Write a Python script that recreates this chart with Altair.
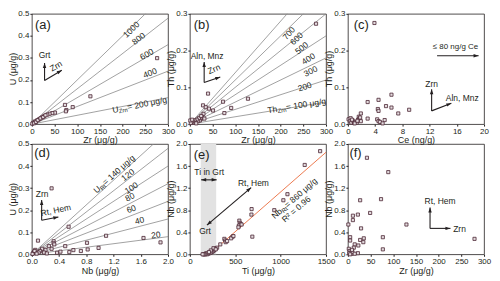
import math
import altair as alt
import pandas as pd

FONT = "Liberation Sans"
INK = "#231f20"
LINE_GREY = "#8a8a8a"
PT_STROKE = "#4a2433"
PT_FILL = "#e4dcdf"
ORANGE = "#ec7a50"
BAND = "#e2e2e2"
W, H = 137, 111

# ---------------- data ----------------
# (a) U vs Zr
a_zr = [276, 129, 90, 73, 76, 75, 51, 45, 39, 34, 27, 22, 16, 11, 7, 3, 1, 5, 9, 13, 19, 25, 30]
a_u = [0.299, 0.126, 0.077, 0.087, 0.064, 0.058, 0.052, 0.050, 0.047, 0.043, 0.036, 0.030, 0.022,
       0.016, 0.012, 0.006, 0.002, 0.004, 0.010, 0.018, 0.026, 0.032, 0.040]
a_line_end = [0.60, 0.48, 0.36, 0.24, 0.12]          # U at Zr = 300 (U_Zrn 1000..200)
a_lab_text = ["1000", "800", "600", "400"]
a_lab_x = [219, 235, 253, 260]
a_lab_y = [0.429, 0.388, 0.317, 0.232]

# (b) Th vs Zr
b_zr = [278, 128, 91, 73, 76, 40, 29, 35, 42, 51, 30, 27, 24, 22, 20, 18, 15, 12, 10, 8, 6, 4, 2, 1,
        25, 14, 5, 32]
b_th = [0.273, 0.069, 0.044, 0.061, 0.030, 0.083, 0.051, 0.046, 0.042, 0.037, 0.028, 0.018, 0.014,
        0.010, 0.016, 0.008, 0.012, 0.006, 0.010, 0.004, 0.008, 0.006, 0.003, 0.010, 0.022, 0.002,
        0.012, 0.015]
b_line_end = [0.42, 0.36, 0.30, 0.24, 0.18, 0.12, 0.06]  # Th at Zr = 300 (Th_Zrn 700..100)
b_lab_text = ["700", "600", "500", "400", "300", "200"]
b_lab_x = [218, 235, 246, 261, 266, 253]
b_lab_y = [0.247, 0.233, 0.207, 0.178, 0.144, 0.102]

# (c) Th vs Ce
c_ce = [3.9, 6.4, 4.5, 2.9, 5.6, 6.4, 9.0, 7.4, 4.4, 4.5, 1.9, 2.9, 4.3, 4.5, 4.7, 5.4, 5.1, 0.1,
        0.3, 0.5, 0.7, 0.9, 1.1, 1.3, 1.5, 1.6, 1.7, 1.8, 1.9, 0.4, 1.0, 1.4, 0.6]
c_th = [0.275, 0.080, 0.066, 0.060, 0.049, 0.045, 0.039, 0.029, 0.041, 0.036, 0.029, 0.015, 0.013,
        0.008, 0.006, 0.011, 0.002, 0.013, 0.008, 0.004, 0.010, 0.003, 0.006, 0.004, 0.012, 0.020,
        0.015, 0.018, 0.008, 0.016, 0.002, 0.009, 0.012]

# (d) U vs Nb
d_nb = [0.29, 0.54, 1.09, 1.64, 1.89, 0.81, 0.98, 0.82, 0.72, 0.61, 0.49, 0.09, 0.32, 0.32, 0.33,
        0.29, 0.25, 0.20, 0.55, 0.37, 0.15, 0.12, 0.10, 0.05, 0.03, 0.02, 0.01, 0.04, 0.07, 0.18,
        0.22, 0.42]
d_u = [0.299, 0.125, 0.084, 0.074, 0.054, 0.052, 0.029, 0.022, 0.015, 0.019, 0.037, 0.062, 0.059,
       0.050, 0.045, 0.025, 0.037, 0.020, 0.010, 0.007, 0.025, 0.015, 0.008, 0.020, 0.010, 0.005,
       0.002, 0.015, 0.003, 0.008, 0.004, 0.012]
d_line_end = [0.56, 0.48, 0.40, 0.32, 0.24, 0.16, 0.08]  # U at Nb = 2 (U_Rt 140..20)
d_lab_text = ["120", "100", "80", "60", "40", "20"]
d_lab_x = [1.41, 1.46, 1.44, 1.46, 1.58, 1.82]
d_lab_y = [0.360, 0.301, 0.260, 0.206, 0.154, 0.088]

# (e) Nb vs Ti
e_ti = [1435, 1265, 1075, 1030, 930, 680, 678, 688, 545, 550, 560, 540, 535, 570, 470, 455, 480,
        380, 390, 395, 410, 335, 300, 280, 270, 260, 250, 240, 230, 215, 200, 190, 180, 170, 160,
        150, 140, 260, 285, 230, 210]
e_nb = [1.87, 1.62, 1.09, 0.98, 0.80, 0.82, 0.72, 0.32, 0.61, 0.57, 0.55, 0.52, 0.49, 0.54, 0.32,
        0.29, 0.33, 0.28, 0.25, 0.22, 0.24, 0.18, 0.12, 0.10, 0.08, 0.06, 0.05, 0.04, 0.03, 0.02,
        0.01, 0.00, 0.02, 0.00, 0.00, 0.00, 0.00, 0.11, 0.09, 0.07, 0.04]
e_fit_ti = [215, 1500]
e_fit_nb = [0.0, 1.85]
e_band = [120, 290]

# (f) Nb vs Zr
f_zr = [42, 89, 27, 73, 49, 22, 11, 11, 129, 1, 29, 77, 35, 27, 5, 5, 34, 15, 23, 13, 77, 279, 22,
        2, 4, 6, 8, 10, 3, 9, 5, 15]
f_nb = [1.75, 1.49, 0.98, 1.00, 0.75, 0.72, 0.70, 0.62, 0.54, 0.54, 0.47, 0.31, 0.29, 0.26, 0.31,
        0.25, 0.22, 0.18, 0.16, 0.12, 0.09, 0.28, 0.02, 0.10, 0.06, 0.03, 0.01, 0.04, 0.02, 0.08,
        0.00, 0.01]

# ---------------- helpers ----------------
CW = {"U": .722, "T": .611, "h": .556, "N": .722, "b": .556, "Z": .611, "r": .333, "n": .556,
      "R": .722, "t": .278, " ": .278, "=": .584, "μ": .576, "g": .556, "/": .278, ".": .278}


def tw(s, fs):
    return sum(CW.get(ch, .556) for ch in s) * fs


class Panel:
    def __init__(self, xdom, ydom, xvals, yvals, xfmt, yfmt, xtitle, ytitle):
        self.xdom, self.ydom = xdom, ydom
        self.ytitle = ytitle
        xs = alt.Scale(domain=xdom, nice=False, zero=False)
        ys = alt.Scale(domain=ydom, nice=False, zero=False)
        xa = alt.Axis(values=xvals, format=xfmt, title=xtitle, tickSize=2, labelPadding=1,
                      titlePadding=1, labelFlush=False, labelOverlap=False, grid=False, domain=False)
        ya = alt.Axis(values=yvals, format=yfmt, title=None, tickSize=2, labelPadding=1,
                      labelFlush=False, labelOverlap=False, grid=False, domain=False)
        self.X = alt.X("x:Q", scale=xs, axis=xa, title=xtitle)
        self.Y = alt.Y("y:Q", scale=ys, axis=ya, title=None)
        self.kx = W / (xdom[1] - xdom[0])
        self.ky = H / (ydom[1] - ydom[0])
        self.layers = []

    def pix_angle(self, dx, dy):
        return (-math.degrees(math.atan2(dy * self.ky, dx * self.kx))) % 360

    def rays(self, x_end, y_ends, color=LINE_GREY, x0=None, y0=None, width=0.8):
        n = len(y_ends)
        df = pd.DataFrame({"x": [self.xdom[0] if x0 is None else x0] * n,
                           "y": [0.0 if y0 is None else y0] * n,
                           "x2": [x_end] * n, "y2": y_ends})
        self.layers.append(alt.Chart(df).mark_rule(color=color, strokeWidth=width, clip=True)
                           .encode(x=self.X, y=self.Y, x2="x2:Q", y2="y2:Q"))

    def band(self, x0, x1):
        df = pd.DataFrame({"x": [x0], "x2": [x1], "y": [self.ydom[0]], "y2": [self.ydom[1]]})
        self.layers.append(alt.Chart(df).mark_rect(color=BAND)
                           .encode(x=self.X, y=self.Y, x2="x2:Q", y2="y2:Q"))

    def points(self, xs, ys):
        df = pd.DataFrame({"x": xs, "y": ys})
        self.layers.append(alt.Chart(df).mark_square(size=10, filled=True, fill=PT_FILL,
                                                     stroke=PT_STROKE, strokeWidth=0.8, opacity=1)
                           .encode(x=self.X, y=self.Y))

    def texts(self, xs, ys, labels, angles, size=8.5, align="center", baseline="middle"):
        df = pd.DataFrame({"x": xs, "y": ys, "t": labels, "ang": angles})
        self.layers.append(alt.Chart(df).mark_text(font=FONT, fontSize=size, color=INK, align=align,
                                                   baseline=baseline)
                           .encode(x=self.X, y=self.Y, text="t:N",
                                   angle=alt.Angle("ang:Q", scale=None)))

    def ray_labels(self, xs, ys, labels, slopes):
        angs = [self.pix_angle(1, s) for s in slopes]
        self.texts(xs, ys, labels, angs)

    def sub_label(self, cx, cy, ang, main, sub, rest, fs=8.5, sfs=6.0):
        wm, ws, wr = tw(main, fs), tw(sub, sfs), tw(rest, fs)
        start = -(wm + ws + wr) / 2
        df = pd.DataFrame({"x": [cx], "y": [cy]})
        base = alt.Chart(df).encode(x=self.X, y=self.Y)
        common = dict(font=FONT, color=INK, align="left", baseline="middle", angle=ang)
        self.layers.append(base.mark_text(text=main, fontSize=fs, dx=start, **common))
        self.layers.append(base.mark_text(text=sub, fontSize=sfs, dx=start + wm, dy=2.5, **common))
        self.layers.append(base.mark_text(text=rest, fontSize=fs, dx=start + wm + ws, **common))

    def arrow(self, x0, y0, x1, y1, both=False):
        df = pd.DataFrame({"x": [x0], "y": [y0], "x2": [x1], "y2": [y1]})
        self.layers.append(alt.Chart(df).mark_rule(color=INK, strokeWidth=1.1)
                           .encode(x=self.X, y=self.Y, x2="x2:Q", y2="y2:Q"))

        def head_ang(ax, ay, bx, by):
            dxp = (bx - ax) * self.kx
            dyp = -(by - ay) * self.ky
            return math.degrees(math.atan2(dxp, -dyp)) % 360

        heads = [(x1, y1, head_ang(x0, y0, x1, y1))]
        if both:
            heads.append((x0, y0, head_ang(x1, y1, x0, y0)))
        hdf = pd.DataFrame(heads, columns=["x", "y", "a"])
        self.layers.append(alt.Chart(hdf).mark_point(shape="M0,0L-0.55,1.6L0.55,1.6Z", filled=True,
                                                     color=INK, size=40, opacity=1, strokeWidth=0)
                           .encode(x=self.X, y=self.Y, angle=alt.Angle("a:Q", scale=None)))

    def tag(self, x, y, label):
        self.texts([x], [y], [label], [0], size=13, align="left", baseline="top")

    def chart(self):
        # y-axis title drawn as a rotated text beside the axis labels
        tdf = pd.DataFrame({"t": [self.ytitle]})
        ttl = alt.Chart(tdf).mark_text(font=FONT, fontSize=9, color=INK, angle=270,
                                       align="center", baseline="bottom").encode(
            x=alt.value(-14), y=alt.value(H / 2), text="t:N")
        return alt.layer(*self.layers, ttl).properties(width=W, height=H)


# ---------------- panel (a) ----------------
pa = Panel([0, 300], [0, 0.5], [0, 50, 100, 150, 200, 250, 300], [0, .1, .2, .3, .4, .5],
           "d", ".1f", "Zr (μg/g)", "U (μg/g)")
pa.rays(300, a_line_end)
pa.points(a_zr, a_u)
pa.ray_labels(a_lab_x, a_lab_y, a_lab_text, [e / 300 for e in a_line_end[:4]])
pa.sub_label(240, 0.089, pa.pix_angle(1, a_line_end[4] / 300), "U", "Zrn", " = 200 μg/g")
pa.arrow(28, 0.198, 28, 0.277)
pa.arrow(28, 0.198, 66, 0.244)
pa.texts([28], [0.312], ["Grt"], [0])
pa.texts([53], [0.263], ["Zrn"], [330])
pa.tag(7, 0.476, "(a)")

# ---------------- panel (b) ----------------
pb = Panel([0, 300], [0, 0.3], [0, 50, 100, 150, 200, 250, 300], [0, .1, .2, .3],
           "d", ".1f", "Zr (μg/g)", "Th (μg/g)")
pb.rays(300, b_line_end)
pb.points(b_zr, b_th)
pb.ray_labels(b_lab_x, b_lab_y, b_lab_text, [e / 300 for e in b_line_end[:6]])
pb.sub_label(238, 0.051, pb.pix_angle(1, b_line_end[6] / 300), "Th", "Zrn", " = 100 μg/g")
pb.arrow(31.5, 0.113, 31.5, 0.169)
pb.arrow(31.5, 0.113, 67, 0.128)
pb.texts([38], [0.186], ["Aln, Mnz"], [0])
pb.texts([53], [0.150], ["Zrn"], [336])
pb.tag(8.5, 0.286, "(b)")

# ---------------- panel (c) ----------------
pc = Panel([0, 20], [0, 0.3], [0, 4, 8, 12, 16, 20], [0, .1, .2, .3],
           "d", ".1f", "Ce (ng/g)", "Th (μg/g)")
pc.points(c_ce, c_th)
pc.texts([15.8], [0.209], ["≤ 80 ng/g Ce"], [0], size=8)
pc.arrow(13.1, 0.186, 19.2, 0.186)
pc.arrow(12.3, 0.036, 12.3, 0.095)
pc.arrow(12.3, 0.036, 15.2, 0.057)
pc.texts([12.3], [0.108], ["Zrn"], [0])
pc.texts([16.8], [0.072], ["Aln, Mnz"], [0])
pc.tag(0.85, 0.286, "(c)")

# ---------------- panel (d) ----------------
pd_ = Panel([0, 2], [0, 0.5], [0, .4, .8, 1.2, 1.6, 2.0], [0, .1, .2, .3, .4, .5],
            ".1f", ".1f", "Nb (μg/g)", "U (μg/g)")
pd_.rays(2, d_line_end)
pd_.points(d_nb, d_u)
pd_.ray_labels(d_lab_x, d_lab_y, d_lab_text, [e / 2 for e in d_line_end[1:]])
pd_.sub_label(1.22, 0.368, pd_.pix_angle(1, d_line_end[0] / 2), "U", "Rt", " = 140 μg/g")
pd_.arrow(0.144, 0.154, 0.144, 0.246)
pd_.arrow(0.144, 0.154, 0.39, 0.169)
pd_.texts([0.15], [0.275], ["Zrn"], [0])
pd_.texts([0.35], [0.200], ["Rt, Hem"], [348])
pd_.tag(0.035, 0.486, "(d)")

# ---------------- panel (e) ----------------
pe = Panel([0, 1500], [0, 2.0], [0, 500, 1000, 1500], [0, .4, .8, 1.2, 1.6, 2.0],
           "d", ".1f", "Ti (μg/g)", "Nb (μg/g)")
pe.band(e_band[0], e_band[1])
pe.rays(e_fit_ti[1], [e_fit_nb[1]], color=ORANGE, x0=e_fit_ti[0], y0=e_fit_nb[0], width=1.0)
pe.points(e_ti, e_nb)
fit_ang = pe.pix_angle(e_fit_ti[1] - e_fit_ti[0], e_fit_nb[1] - e_fit_nb[0])
pe.sub_label(1160, 1.03, fit_ang, "Nb", "Rt", " = 860 μg/g")
pe.texts([1170], [0.82], ["R² = 0.96"], [fit_ang])
pe.arrow(124, 1.35, 295, 1.35, both=True)
pe.texts([213], [1.50], ["Ti in Grt"], [0])
pe.arrow(188, 0.53, 675, 1.21, both=True)
pe.texts([700], [1.29], ["Rt, Hem"], [0])
pe.texts([167], [0.43], ["Grt"], [0])
pe.tag(43, 1.90, "(e)")

# ---------------- panel (f) ----------------
pf = Panel([0, 300], [0, 2.0], [0, 50, 100, 150, 200, 250, 300], [0, .4, .8, 1.2, 1.6, 2.0],
           "d", ".1f", "Zr (μg/g)", "Nb (μg/g)")
pf.points(f_zr, f_nb)
pf.arrow(181, 0.47, 181, 0.85)
pf.arrow(181, 0.47, 226, 0.47)
pf.texts([203], [0.96], ["Rt, Hem"], [0])
pf.texts([232], [0.46], ["Zrn"], [0], align="left")
pf.tag(3.5, 1.94, "(f)")

chart = alt.concat(pa.chart(), pb.chart(), pc.chart(), pd_.chart(), pe.chart(), pf.chart(),
                   columns=3, spacing={"row": 20, "column": 22}, bounds="flush").properties(
    padding=0
).configure_view(stroke=INK, strokeWidth=0.8).configure_axis(
    labelFont=FONT, titleFont=FONT, labelFontSize=8, titleFontSize=9, labelColor=INK,
    titleColor=INK, tickColor=INK, titleFontWeight="normal"
)

chart.save("out.html", embed_options={"renderer": "svg", "actions": False})
